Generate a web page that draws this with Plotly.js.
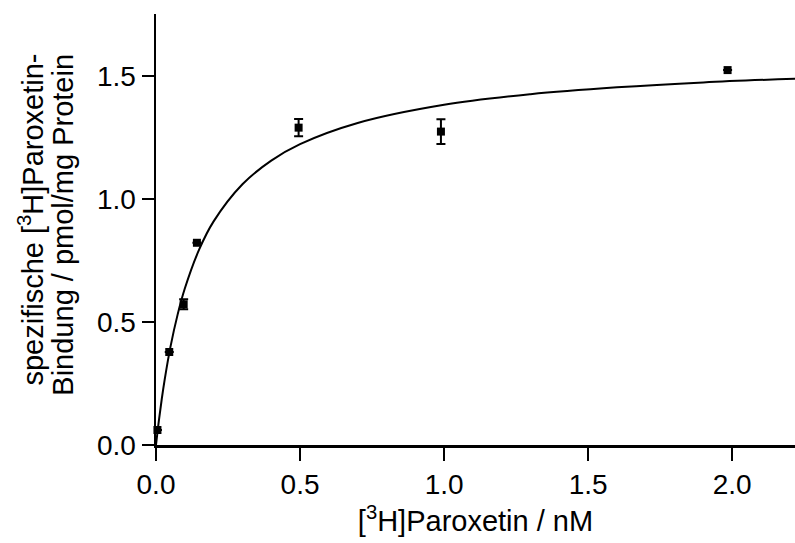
<!DOCTYPE html>
<html>
<head>
<meta charset="utf-8">
<script src="https://cdn.plot.ly/plotly-3.0.1.min.js"></script>
<style>html,body{margin:0;padding:0;background:#fff;}#chart{width:795px;height:543px;}</style>
</head>
<body>
<div id="chart"></div>
<script>
// Measured data points
var concNM = [0.005, 0.046, 0.096, 0.142, 0.495, 0.989, 1.984];
var binding = [0.061, 0.378, 0.572, 0.822, 1.290, 1.274, 1.524];
var bindingErr = [null, null, 0.02, null, 0.035, 0.05, null];

// Fitted saturation curve
var fitX = [0, 0.01, 0.02, 0.03, 0.05, 0.075, 0.1, 0.15, 0.2, 0.3, 0.4, 0.5, 0.7, 1.0, 1.3, 1.6, 1.9, 2.22];
var fitY = [0, 0.099, 0.187, 0.265, 0.398, 0.530, 0.636, 0.795, 0.909, 1.060, 1.156, 1.223, 1.309, 1.383, 1.426, 1.454, 1.474, 1.489];

var xTickVals = [0, 0.5, 1.0, 1.5, 2.0];
var xTickText = ["0.0", "0.5", "1.0", "1.5", "2.0"];
var yTickVals = [0, 0.5, 1.0, 1.5];
var yTickText = ["0.0", "0.5", "1.0", "1.5"];

var xTitle = "[<sup>3</sup>H]Paroxetin / nM";
var yTitleLine1 = "spezifische [<sup>3</sup>H]Paroxetin-";
var yTitleLine2 = "Bindung / pmol/mg Protein";

var font = "Liberation Sans, Arial, Helvetica, sans-serif";

var traces = [
  {
    x: fitX, y: fitY, mode: "lines", type: "scatter",
    line: {color: "#000", width: 2, shape: "spline"},
    hoverinfo: "skip", showlegend: false, cliponaxis: true
  },
  {
    x: concNM, y: binding, mode: "markers", type: "scatter",
    marker: {symbol: "square", size: 8, color: "#000"},
    error_y: {type: "data", array: bindingErr, visible: true, color: "#000", thickness: 2, width: 4.5},
    showlegend: false, cliponaxis: false
  }
];

var layout = {
  width: 795, height: 543,
  margin: {l: 156, r: 0, t: 14, b: 98},
  paper_bgcolor: "#fff", plot_bgcolor: "#fff",
  font: {family: font, color: "#000", size: 28},
  showlegend: false,
  xaxis: {
    range: [0, 2.218], showgrid: false, zeroline: false,
    showline: true, linecolor: "#000", linewidth: 2.5,
    ticks: "outside", ticklen: 13, tickwidth: 2, tickcolor: "#000",
    tickvals: xTickVals, ticktext: xTickText,
    tickfont: {family: font, size: 28, color: "#000"},
    title: {text: xTitle, font: {family: font, size: 29, color: "#000"}, standoff: 12}
  },
  yaxis: {
    range: [0, 1.752], showgrid: false, zeroline: false,
    showline: true, linecolor: "#000", linewidth: 2.5,
    ticks: "outside", ticklen: 12, tickwidth: 2, tickcolor: "#000",
    tickvals: yTickVals, ticktext: yTickText,
    tickfont: {family: font, size: 28, color: "#000"}
  },
  annotations: [
    {text: yTitleLine1, xref: "paper", yref: "paper", x: -0.195, y: 0.524,
     xanchor: "center", yanchor: "middle", textangle: -90, showarrow: false,
     font: {family: font, size: 29, color: "#000"}},
    {text: yTitleLine2, xref: "paper", yref: "paper", x: -0.145, y: 0.512,
     xanchor: "center", yanchor: "middle", textangle: -90, showarrow: false,
     font: {family: font, size: 29, color: "#000"}}
  ]
};

Plotly.newPlot("chart", traces, layout, {displayModeBar: false, staticPlot: true});
</script>
</body>
</html>
